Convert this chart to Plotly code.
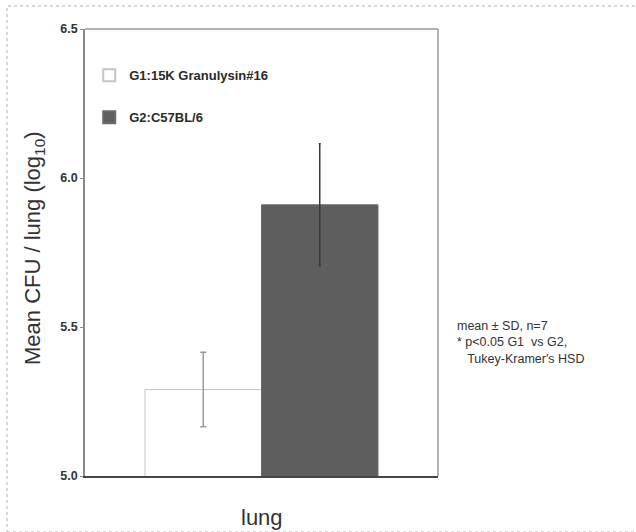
import plotly.graph_objects as go

# Lung bacterial burden (log10 CFU), mean ± SD
categories = ["lung"]
groups = ["G1:15K Granulysin#16", "G2:C57BL/6"]
means = [5.29, 5.91]
sds = [0.125, 0.205]
y_ticks = [5.0, 5.5, 6.0, 6.5]
y_tick_labels = ["5.0", "5.5", "6.0", "6.5"]

FONT = "Liberation Sans, Arial, sans-serif"

fig = go.Figure()

# G1: open (white) bar with faint outline and light grey error bar
fig.add_trace(go.Bar(
    x=categories, y=[means[0]], name=groups[0],
    marker=dict(color="white", line=dict(color="#c4c4c4", width=1)),
    error_y=dict(type="data", array=[sds[0]], color="#9a9a9a", thickness=1.5, width=3),
    legendgroup="g1",
))
# G2: solid dark grey bar
fig.add_trace(go.Bar(
    x=categories, y=[means[1]], name=groups[1],
    marker=dict(color="#5e5e5e", line=dict(color="#6a6a6a", width=1)),
    error_y=dict(type="data", array=[sds[1]], color="#3a3a3a", thickness=1.5, width=1),
    legendgroup="g2",
))

fig.update_layout(
    width=636, height=532,
    margin=dict(l=85, r=198, t=29, b=56),
    paper_bgcolor="white", plot_bgcolor="white",
    barmode="group", bargap=0.34, bargroupgap=0,
    font=dict(family=FONT, color="#333333"),
    showlegend=True,
    legend=dict(
        x=0.012, y=0.93, xanchor="left", yanchor="top",
        font=dict(family=FONT, size=13, color="#2a2a2a", weight="bold"),
        bgcolor="rgba(0,0,0,0)", tracegroupgap=22,
        itemsizing="constant",
    ),
    xaxis=dict(
        showticklabels=False, ticks="",
        showline=True, linecolor="#444444", linewidth=1.5, mirror=False,
        range=[-0.5, 0.5],
    ),
    yaxis=dict(
        range=[5.0, 6.5], tickvals=y_ticks, ticktext=y_tick_labels,
        ticks="outside", ticklen=3, tickcolor="#888888",
        tickfont=dict(family=FONT, size=12.5, color="#333333", weight="bold"),
        showline=True, linecolor="#8a8a8a", linewidth=1.5,
        showgrid=False, zeroline=False,
    ),
)

# top and right frame of the plotting area
fig.add_shape(type="line", xref="paper", yref="paper", x0=0, x1=1, y0=1, y1=1,
              line=dict(color="#9a9a9a", width=1.5))
fig.add_shape(type="line", xref="paper", yref="paper", x0=1, x1=1, y0=0, y1=1,
              line=dict(color="#9a9a9a", width=1.5))

# dotted outer border of the figure panel
fig.add_shape(type="rect", xref="paper", yref="paper",
              x0=(7 - 85) / 353, x1=(640 - 85) / 353,
              y0=-56 / 447, y1=(476 - 6) / 447,
              line=dict(color="#b0b0b0", width=1, dash="dot"))

# axis titles
fig.add_annotation(
    text="Mean CFU / lung (log<sub>10</sub>)", textangle=-90,
    xref="paper", yref="paper", x=(34 - 85) / 353, y=(476 - 248) / 447,
    xanchor="center", yanchor="middle",
    showarrow=False, font=dict(family=FONT, size=22, color="#333333"),
)
fig.add_annotation(
    text="lung", xref="paper", yref="paper", x=0.5, y=-(517 - 476) / 447,
    xanchor="center", yanchor="middle",
    showarrow=False, font=dict(family=FONT, size=22, color="#333333"),
)

# statistics note
fig.add_annotation(
    text="mean ± SD, n=7<br>* p&lt;0.05 G1  vs G2,<br>   Tukey-Kramer's HSD",
    xref="paper", yref="paper", x=(455 - 85) / 353, y=(476 - 342) / 447,
    xanchor="left", yanchor="middle", align="left", showarrow=False,
    font=dict(family=FONT, size=12.5, color="#333333"),
)

fig.write_html("out.html")
